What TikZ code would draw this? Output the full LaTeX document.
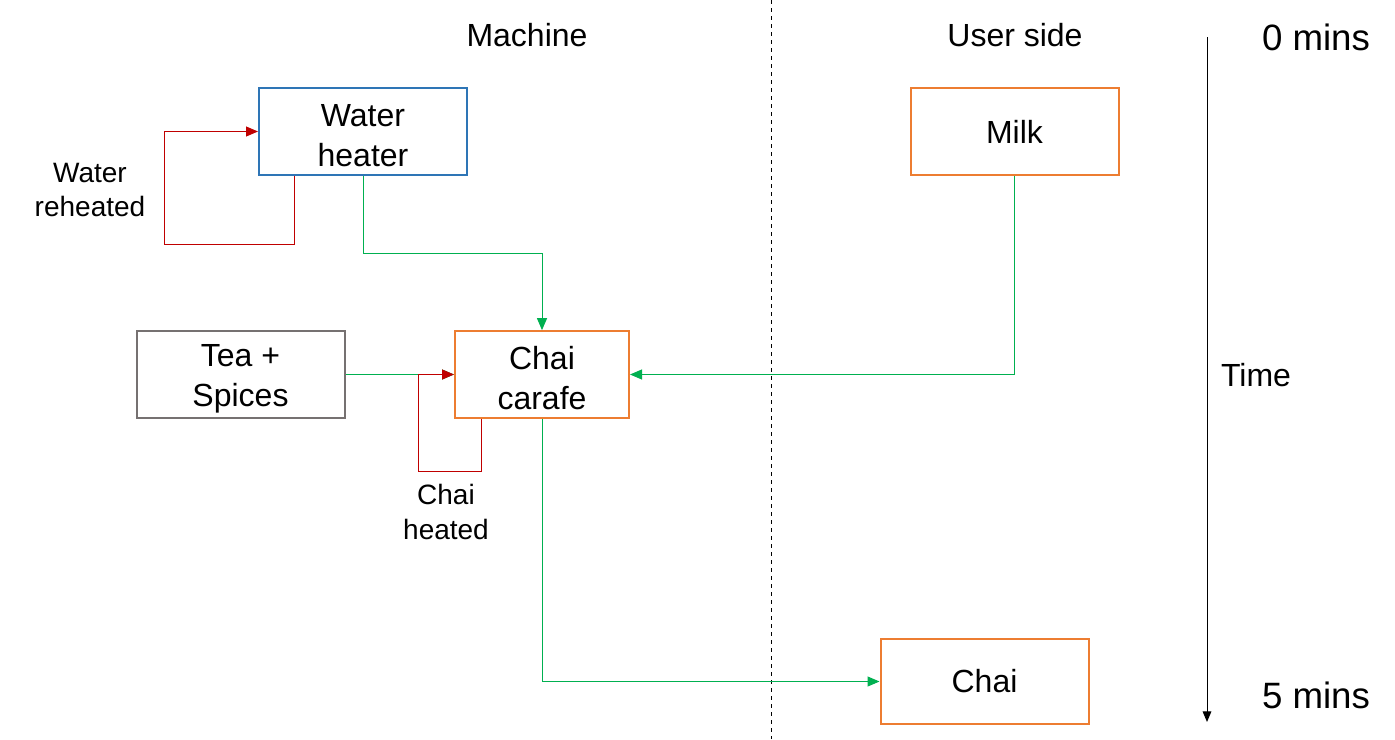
\documentclass[tikz,border=0pt]{standalone}
\usepackage{fontspec}
\setmainfont{Liberation Sans}
\usepackage{xcolor}
\usetikzlibrary{calc,arrows.meta}

\definecolor{boxblue}{HTML}{2E75B6}
\definecolor{boxorange}{HTML}{ED7D31}
\definecolor{boxgray}{HTML}{767171}
\definecolor{flowgreen}{HTML}{00B050}
\definecolor{loopred}{HTML}{C00000}

\newcommand{\upline}{\rule{0pt}{23pt}}

\begin{document}
\begin{tikzpicture}[x=0.75pt,y=-0.75pt,
  box/.style={draw, line width=1.5pt, fill=white, align=center, inner sep=0pt,
    minimum width=156pt, minimum height=65pt,
    font=\fontsize{24pt}{30pt}\selectfont},
  feed/.style={draw=flowgreen, line width=0.75pt, -{Triangle[length=9pt,width=7.5pt]}},
  reheat/.style={draw=loopred, line width=0.75pt, -{Triangle[length=9pt,width=7.5pt]}},
  lbl/.style={align=center, inner sep=0pt, font=\fontsize{21pt}{26pt}\selectfont},
  head/.style={inner sep=0pt, font=\fontsize{24pt}{30pt}\selectfont},
  tick/.style={inner sep=0pt, font=\fontsize{27.5pt}{33pt}\selectfont}]
\useasboundingbox (0,0) rectangle (1395,739);

% columns
\coordinate (divtop) at (771,0);
\coordinate (divbot) at (771,739);
\draw[dashed, line width=0.6pt] (divtop) -- (divbot);
\node[head] (machine) at (527,35) {Machine};
\node[head] (user) at (1015,35) {User side};

% time axis
\coordinate (t0) at (1207,37);
\coordinate (t1) at (1207,722);
\draw[line width=0.75pt, -{Triangle[length=8pt,width=6.5pt]}] (t0) -- (t1);
\node[tick] (zero) at (1316,37) {0 mins};
\node[tick] (five) at (1316,695) {5 mins};
\node[head] (time) at (1256,375) {Time};

% boxes
\node[box, draw=boxblue] (wh) at (363,131.5) {\upline Water\\heater};
\node[box, draw=boxorange] (milk) at (1014.5,131.5) {Milk};
\node[box, draw=boxgray] (tea) at (240.5,374.5) {\upline Tea +\\Spices};
\node[box, draw=boxorange, minimum width=130.5pt] (cc) at (542,374.5) {\upline Chai\\carafe};
\node[box, draw=boxorange, minimum height=64pt] (chai) at (984.5,681.5) {Chai};

% flows
\draw[feed] (wh.south) -- ++(0,78) -| (cc.north);
\draw[feed] (milk.south) |- (cc.east);
\draw[feed] (tea.east) -- (cc.west);
\draw[feed] (cc.south) |- (chai.west);

% heating loops
\coordinate (wr) at (294,244);
\coordinate (wl) at (164,244);
\draw[reheat] (wh.south -| wr) -- (wr) -- (wl) |- (wh.west);
\node[lbl] (wlbl) at (90,190) {Water\\reheated};

\coordinate (cr) at (481,471);
\coordinate (cl) at (418,471);
\draw[reheat] (cc.south -| cr) -- (cr) -- (cl) |- (cc.west);
\node[lbl] (clbl) at (446,512) {Chai\\heated};
\end{tikzpicture}
\end{document}
